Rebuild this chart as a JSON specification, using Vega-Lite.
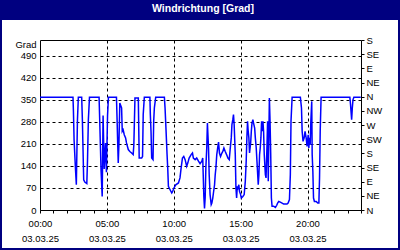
{
  "$schema": "https://vega.github.io/schema/vega-lite/v6.json",
  "padding": 0,
  "background": "white",
  "spacing": 0,
  "columns": 4,
  "bounds": "flush",
  "align": "each",
  "config": {
    "view": {"stroke": null},
    "concat": {"spacing": 0},
    "axis": {"labelFont": "Liberation Sans", "labelFontSize": 9.5, "labelColor": "#000", "titleFont": "Liberation Sans", "titleFontSize": 9.5, "titleColor": "#000", "titleFontWeight": "normal", "domain": false}
  },
  "datasets": {
    "blank": [{"a": 0}],
    "wind": [
      {"t": "2025-03-03T00:00", "v": 358}, {"t": "2025-03-03T02:28", "v": 358}, {"t": "2025-03-03T02:30", "v": 313}, {"t": "2025-03-03T02:33", "v": 221}, {"t": "2025-03-03T02:39", "v": 133}, {"t": "2025-03-03T02:43", "v": 80}, {"t": "2025-03-03T02:48", "v": 287}, {"t": "2025-03-03T02:52", "v": 358},
      {"t": "2025-03-03T03:07", "v": 358}, {"t": "2025-03-03T03:10", "v": 290}, {"t": "2025-03-03T03:16", "v": 96}, {"t": "2025-03-03T03:21", "v": 89}, {"t": "2025-03-03T03:30", "v": 84}, {"t": "2025-03-03T03:33", "v": 155}, {"t": "2025-03-03T03:37", "v": 287}, {"t": "2025-03-03T03:42", "v": 358},
      {"t": "2025-03-03T04:25", "v": 358}, {"t": "2025-03-03T04:28", "v": 282}, {"t": "2025-03-03T04:34", "v": 123}, {"t": "2025-03-03T04:39", "v": 43}, {"t": "2025-03-03T04:43", "v": 300}, {"t": "2025-03-03T04:48", "v": 130}, {"t": "2025-03-03T04:54", "v": 213}, {"t": "2025-03-03T04:58", "v": 120}, {"t": "2025-03-03T05:03", "v": 300}, {"t": "2025-03-03T05:07", "v": 358},
      {"t": "2025-03-03T05:43", "v": 358}, {"t": "2025-03-03T05:46", "v": 282}, {"t": "2025-03-03T05:49", "v": 200}, {"t": "2025-03-03T05:51", "v": 149}, {"t": "2025-03-03T05:54", "v": 208}, {"t": "2025-03-03T05:58", "v": 340}, {"t": "2025-03-03T06:06", "v": 324}, {"t": "2025-03-03T06:09", "v": 250}, {"t": "2025-03-03T06:13", "v": 255}, {"t": "2025-03-03T06:18", "v": 239}, {"t": "2025-03-03T06:24", "v": 229}, {"t": "2025-03-03T06:28", "v": 213}, {"t": "2025-03-03T06:36", "v": 192}, {"t": "2025-03-03T06:43", "v": 186}, {"t": "2025-03-03T06:51", "v": 181}, {"t": "2025-03-03T06:58", "v": 176}, {"t": "2025-03-03T07:01", "v": 207}, {"t": "2025-03-03T07:06", "v": 356},
      {"t": "2025-03-03T07:21", "v": 356}, {"t": "2025-03-03T07:25", "v": 165}, {"t": "2025-03-03T07:36", "v": 165}, {"t": "2025-03-03T07:40", "v": 170}, {"t": "2025-03-03T07:43", "v": 303}, {"t": "2025-03-03T07:48", "v": 358},
      {"t": "2025-03-03T08:13", "v": 358}, {"t": "2025-03-03T08:15", "v": 303}, {"t": "2025-03-03T08:18", "v": 250}, {"t": "2025-03-03T08:21", "v": 165}, {"t": "2025-03-03T08:27", "v": 160}, {"t": "2025-03-03T08:30", "v": 282}, {"t": "2025-03-03T08:33", "v": 324}, {"t": "2025-03-03T08:39", "v": 358},
      {"t": "2025-03-03T09:18", "v": 358}, {"t": "2025-03-03T09:21", "v": 324}, {"t": "2025-03-03T09:25", "v": 260}, {"t": "2025-03-03T09:30", "v": 176}, {"t": "2025-03-03T09:33", "v": 133}, {"t": "2025-03-03T09:36", "v": 75}, {"t": "2025-03-03T09:43", "v": 65}, {"t": "2025-03-03T09:51", "v": 54}, {"t": "2025-03-03T09:55", "v": 59},
      {"t": "2025-03-03T10:01", "v": 70}, {"t": "2025-03-03T10:09", "v": 80}, {"t": "2025-03-03T10:21", "v": 86}, {"t": "2025-03-03T10:28", "v": 102}, {"t": "2025-03-03T10:33", "v": 133}, {"t": "2025-03-03T10:39", "v": 165}, {"t": "2025-03-03T10:45", "v": 170}, {"t": "2025-03-03T10:51", "v": 160}, {"t": "2025-03-03T10:58", "v": 139},
      {"t": "2025-03-03T11:03", "v": 149}, {"t": "2025-03-03T11:09", "v": 165}, {"t": "2025-03-03T11:18", "v": 176}, {"t": "2025-03-03T11:24", "v": 181}, {"t": "2025-03-03T11:28", "v": 165}, {"t": "2025-03-03T11:36", "v": 160}, {"t": "2025-03-03T11:43", "v": 165}, {"t": "2025-03-03T11:51", "v": 155}, {"t": "2025-03-03T11:58", "v": 147},
      {"t": "2025-03-03T12:06", "v": 155}, {"t": "2025-03-03T12:10", "v": 165}, {"t": "2025-03-03T12:15", "v": 43}, {"t": "2025-03-03T12:18", "v": 5}, {"t": "2025-03-03T12:21", "v": 40}, {"t": "2025-03-03T12:24", "v": 133}, {"t": "2025-03-03T12:28", "v": 197}, {"t": "2025-03-03T12:31", "v": 276}, {"t": "2025-03-03T12:36", "v": 197}, {"t": "2025-03-03T12:39", "v": 112}, {"t": "2025-03-03T12:43", "v": 49}, {"t": "2025-03-03T12:48", "v": 17}, {"t": "2025-03-03T12:51", "v": 22}, {"t": "2025-03-03T12:55", "v": 38}, {"t": "2025-03-03T12:58", "v": 54},
      {"t": "2025-03-03T13:03", "v": 80}, {"t": "2025-03-03T13:06", "v": 112}, {"t": "2025-03-03T13:09", "v": 133}, {"t": "2025-03-03T13:13", "v": 176}, {"t": "2025-03-03T13:18", "v": 202}, {"t": "2025-03-03T13:21", "v": 216}, {"t": "2025-03-03T13:25", "v": 181}, {"t": "2025-03-03T13:30", "v": 170}, {"t": "2025-03-03T13:36", "v": 181}, {"t": "2025-03-03T13:40", "v": 186}, {"t": "2025-03-03T13:45", "v": 197}, {"t": "2025-03-03T13:51", "v": 186}, {"t": "2025-03-03T13:57", "v": 176},
      {"t": "2025-03-03T14:03", "v": 165}, {"t": "2025-03-03T14:09", "v": 160}, {"t": "2025-03-03T14:13", "v": 192}, {"t": "2025-03-03T14:18", "v": 229}, {"t": "2025-03-03T14:21", "v": 271}, {"t": "2025-03-03T14:25", "v": 287}, {"t": "2025-03-03T14:28", "v": 303}, {"t": "2025-03-03T14:31", "v": 271}, {"t": "2025-03-03T14:36", "v": 176}, {"t": "2025-03-03T14:39", "v": 70}, {"t": "2025-03-03T14:42", "v": 38}, {"t": "2025-03-03T14:45", "v": 75}, {"t": "2025-03-03T14:48", "v": 70}, {"t": "2025-03-03T14:52", "v": 80}, {"t": "2025-03-03T14:55", "v": 59},
      {"t": "2025-03-03T15:00", "v": 49}, {"t": "2025-03-03T15:03", "v": 38}, {"t": "2025-03-03T15:10", "v": 43}, {"t": "2025-03-03T15:16", "v": 49}, {"t": "2025-03-03T15:21", "v": 91}, {"t": "2025-03-03T15:25", "v": 155}, {"t": "2025-03-03T15:28", "v": 229}, {"t": "2025-03-03T15:31", "v": 282}, {"t": "2025-03-03T15:34", "v": 250}, {"t": "2025-03-03T15:37", "v": 229}, {"t": "2025-03-03T15:40", "v": 181}, {"t": "2025-03-03T15:45", "v": 213}, {"t": "2025-03-03T15:48", "v": 250}, {"t": "2025-03-03T15:51", "v": 276}, {"t": "2025-03-03T15:55", "v": 287}, {"t": "2025-03-03T15:58", "v": 276},
      {"t": "2025-03-03T16:03", "v": 260}, {"t": "2025-03-03T16:06", "v": 229}, {"t": "2025-03-03T16:10", "v": 197}, {"t": "2025-03-03T16:15", "v": 133}, {"t": "2025-03-03T16:19", "v": 80}, {"t": "2025-03-03T16:22", "v": 112}, {"t": "2025-03-03T16:25", "v": 176}, {"t": "2025-03-03T16:28", "v": 197}, {"t": "2025-03-03T16:31", "v": 229}, {"t": "2025-03-03T16:34", "v": 282}, {"t": "2025-03-03T16:37", "v": 250}, {"t": "2025-03-03T16:40", "v": 282}, {"t": "2025-03-03T16:43", "v": 250}, {"t": "2025-03-03T16:46", "v": 176}, {"t": "2025-03-03T16:51", "v": 112}, {"t": "2025-03-03T16:54", "v": 102}, {"t": "2025-03-03T16:58", "v": 197},
      {"t": "2025-03-03T17:01", "v": 282}, {"t": "2025-03-03T17:04", "v": 91}, {"t": "2025-03-03T17:09", "v": 356}, {"t": "2025-03-03T17:12", "v": 282}, {"t": "2025-03-03T17:15", "v": 176}, {"t": "2025-03-03T17:18", "v": 38}, {"t": "2025-03-03T17:21", "v": 12}, {"t": "2025-03-03T17:28", "v": 12}, {"t": "2025-03-03T17:36", "v": 8}, {"t": "2025-03-03T17:42", "v": 15}, {"t": "2025-03-03T17:46", "v": 22}, {"t": "2025-03-03T17:51", "v": 27}, {"t": "2025-03-03T17:58", "v": 25},
      {"t": "2025-03-03T18:06", "v": 22}, {"t": "2025-03-03T18:13", "v": 19}, {"t": "2025-03-03T18:28", "v": 19}, {"t": "2025-03-03T18:33", "v": 22}, {"t": "2025-03-03T18:39", "v": 33}, {"t": "2025-03-03T18:43", "v": 112}, {"t": "2025-03-03T18:46", "v": 282}, {"t": "2025-03-03T18:51", "v": 358},
      {"t": "2025-03-03T19:28", "v": 358}, {"t": "2025-03-03T19:33", "v": 324}, {"t": "2025-03-03T19:36", "v": 250}, {"t": "2025-03-03T19:40", "v": 218}, {"t": "2025-03-03T19:45", "v": 229}, {"t": "2025-03-03T19:49", "v": 250}, {"t": "2025-03-03T19:54", "v": 229}, {"t": "2025-03-03T19:58", "v": 202},
      {"t": "2025-03-03T20:03", "v": 239}, {"t": "2025-03-03T20:06", "v": 197}, {"t": "2025-03-03T20:09", "v": 229}, {"t": "2025-03-03T20:12", "v": 207}, {"t": "2025-03-03T20:15", "v": 282}, {"t": "2025-03-03T20:19", "v": 345}, {"t": "2025-03-03T20:21", "v": 176}, {"t": "2025-03-03T20:24", "v": 123}, {"t": "2025-03-03T20:27", "v": 38}, {"t": "2025-03-03T20:31", "v": 27}, {"t": "2025-03-03T20:39", "v": 27}, {"t": "2025-03-03T20:46", "v": 22}, {"t": "2025-03-03T20:51", "v": 22}, {"t": "2025-03-03T20:54", "v": 102}, {"t": "2025-03-03T20:57", "v": 250}, {"t": "2025-03-03T21:01", "v": 358},
      {"t": "2025-03-03T23:10", "v": 358}, {"t": "2025-03-03T23:13", "v": 335}, {"t": "2025-03-03T23:18", "v": 287}, {"t": "2025-03-03T23:21", "v": 324}, {"t": "2025-03-03T23:24", "v": 350}, {"t": "2025-03-03T23:28", "v": 358}, {"t": "2025-03-03T23:59", "v": 358}
    ]
  },
  "concat": [
    {"width": 2, "height": 20, "data": {"name": "blank"}, "mark": {"type": "point", "size": 0, "opacity": 0}, "view": {"fill": "#000080", "stroke": null}},
    {"width": 38, "height": 20, "data": {"name": "blank"}, "mark": {"type": "point", "size": 0, "opacity": 0}, "view": {"fill": "#000080", "stroke": null}},
    {
      "width": 358, "height": 20,
      "view": {"fill": "#000080", "stroke": null},
      "data": {"values": [{"label": "Windrichtung [Grad]"}]},
      "mark": {"type": "text", "color": "white", "font": "Liberation Sans", "fontSize": 10.5, "fontWeight": "bold", "align": "center", "baseline": "middle", "dx": -16, "dy": -1},
      "encoding": {"text": {"field": "label", "type": "nominal"}}
    },
    {"width": 2, "height": 20, "data": {"name": "blank"}, "mark": {"type": "point", "size": 0, "opacity": 0}, "view": {"fill": "#000080", "stroke": null}},

    {"width": 2, "height": 20, "data": {"name": "blank"}, "mark": {"type": "point", "size": 0, "opacity": 0}, "view": {"fill": "#000080", "stroke": null}},
    {"width": 38, "height": 20, "data": {"name": "blank"}, "mark": {"type": "point", "size": 0, "opacity": 0}},
    {"width": 358, "height": 20, "data": {"name": "blank"}, "mark": {"type": "point", "size": 0, "opacity": 0}},
    {"width": 2, "height": 20, "data": {"name": "blank"}, "mark": {"type": "point", "size": 0, "opacity": 0}, "view": {"fill": "#000080", "stroke": null}},

    {"width": 2, "height": 170, "data": {"name": "blank"}, "mark": {"type": "point", "size": 0, "opacity": 0}, "view": {"fill": "#000080", "stroke": null}},
    {"width": 38, "height": 170, "data": {"name": "blank"}, "mark": {"type": "point", "size": 0, "opacity": 0}},
    {
      "width": 321, "height": 170,
      "view": {"stroke": "#000", "strokeWidth": 1},
      "data": {"name": "wind"},
      "encoding": {
        "x": {
          "field": "t", "type": "temporal",
          "scale": {"domain": [{"year": 2025, "month": 3, "date": 3, "hours": 0}, {"year": 2025, "month": 3, "date": 4, "hours": 0}]},
          "axis": {
            "orient": "bottom", "title": null,
            "values": [
              {"year": 2025, "month": 3, "date": 3, "hours": 0}, {"year": 2025, "month": 3, "date": 3, "hours": 1}, {"year": 2025, "month": 3, "date": 3, "hours": 2}, {"year": 2025, "month": 3, "date": 3, "hours": 3}, {"year": 2025, "month": 3, "date": 3, "hours": 4},
              {"year": 2025, "month": 3, "date": 3, "hours": 5}, {"year": 2025, "month": 3, "date": 3, "hours": 6}, {"year": 2025, "month": 3, "date": 3, "hours": 7}, {"year": 2025, "month": 3, "date": 3, "hours": 8}, {"year": 2025, "month": 3, "date": 3, "hours": 9},
              {"year": 2025, "month": 3, "date": 3, "hours": 10}, {"year": 2025, "month": 3, "date": 3, "hours": 11}, {"year": 2025, "month": 3, "date": 3, "hours": 12}, {"year": 2025, "month": 3, "date": 3, "hours": 13}, {"year": 2025, "month": 3, "date": 3, "hours": 14},
              {"year": 2025, "month": 3, "date": 3, "hours": 15}, {"year": 2025, "month": 3, "date": 3, "hours": 16}, {"year": 2025, "month": 3, "date": 3, "hours": 17}, {"year": 2025, "month": 3, "date": 3, "hours": 18}, {"year": 2025, "month": 3, "date": 3, "hours": 19},
              {"year": 2025, "month": 3, "date": 3, "hours": 20}, {"year": 2025, "month": 3, "date": 3, "hours": 21}, {"year": 2025, "month": 3, "date": 3, "hours": 22}, {"year": 2025, "month": 3, "date": 3, "hours": 23}, {"year": 2025, "month": 3, "date": 4, "hours": 0}
            ],
            "labelExpr": "hours(datum.value) % 5 == 0 && date(datum.value) == 3 ? [timeFormat(datum.value, '%H:%M'), timeFormat(datum.value, '%d.%m.%y')] : ''",
            "labelOverlap": false, "labelFlush": false, "labelPadding": 5, "labelLineHeight": 15.5,
            "ticks": true, "tickSize": 3, "tickColor": "#000",
            "grid": true, "gridColor": "#000", "gridDash": [3, 3],
            "gridOpacity": {"condition": {"test": "hours(datum.value) % 5 == 0 && hours(datum.value) > 0", "value": 1}, "value": 0}
          }
        }
      },
      "layer": [
        {
          "mark": {"type": "line", "color": "#0000ff", "strokeWidth": 1.5},
          "encoding": {
            "y": {
              "field": "v", "type": "quantitative",
              "scale": {"domain": [0, 540], "nice": false},
              "axis": {
                "orient": "left", "values": [0, 70, 140, 210, 280, 350, 420, 490],
                "grid": true, "gridColor": "#000", "gridDash": [3, 3],
                "ticks": false, "tickSize": 0, "labelPadding": 4, "labelFlush": false,
                "title": "Grad", "titleAngle": 0, "titleAlign": "right", "titleBaseline": "alphabetic", "titleX": -4, "titleY": 7.5
              }
            }
          }
        },
        {
          "mark": {"type": "line", "opacity": 0},
          "encoding": {
            "y": {
              "field": "v", "type": "quantitative",
              "scale": {"domain": [0, 540], "nice": false},
              "axis": {
                "orient": "right", "values": [0, 45, 90, 135, 180, 225, 270, 315, 360, 405, 450, 495, 540],
                "grid": false, "ticks": true, "tickSize": 3, "tickColor": "#000", "labelPadding": 2, "labelFlush": false,
                "labelExpr": "['N','NE','E','SE','S','SW','W','NW','N','NE','E','SE','S'][round(datum.value / 45)]",
                "title": null
              }
            }
          }
        }
      ],
      "resolve": {"scale": {"y": "independent"}}
    },
    {"width": 2, "height": 170, "data": {"name": "blank"}, "mark": {"type": "point", "size": 0, "opacity": 0}, "view": {"fill": "#000080", "stroke": null}},

    {"width": 2, "height": 38, "data": {"name": "blank"}, "mark": {"type": "point", "size": 0, "opacity": 0}, "view": {"fill": "#000080", "stroke": null}},
    {"width": 38, "height": 38, "data": {"name": "blank"}, "mark": {"type": "point", "size": 0, "opacity": 0}},
    {"width": 358, "height": 38, "data": {"name": "blank"}, "mark": {"type": "point", "size": 0, "opacity": 0}},
    {"width": 2, "height": 38, "data": {"name": "blank"}, "mark": {"type": "point", "size": 0, "opacity": 0}, "view": {"fill": "#000080", "stroke": null}},

    {"width": 2, "height": 2, "data": {"name": "blank"}, "mark": {"type": "point", "size": 0, "opacity": 0}, "view": {"fill": "#000080", "stroke": null}},
    {"width": 38, "height": 2, "data": {"name": "blank"}, "mark": {"type": "point", "size": 0, "opacity": 0}, "view": {"fill": "#000080", "stroke": null}},
    {"width": 358, "height": 2, "data": {"name": "blank"}, "mark": {"type": "point", "size": 0, "opacity": 0}, "view": {"fill": "#000080", "stroke": null}},
    {"width": 2, "height": 2, "data": {"name": "blank"}, "mark": {"type": "point", "size": 0, "opacity": 0}, "view": {"fill": "#000080", "stroke": null}}
  ]
}
